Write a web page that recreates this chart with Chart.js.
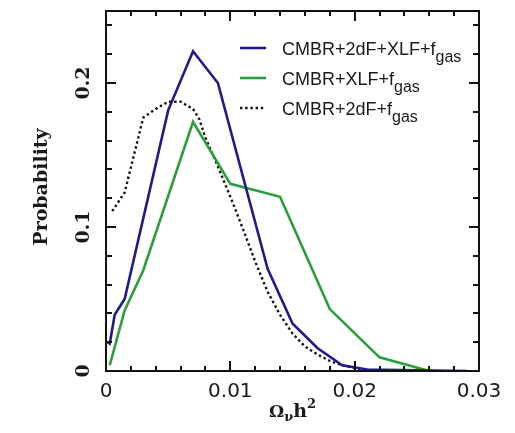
<!DOCTYPE html>
<html>
<head>
<meta charset="utf-8">
<script src="https://cdn.jsdelivr.net/npm/chart.js@4"></script>
<style>
  html, body { margin: 0; padding: 0; background: #fff; }
  #wrap { width: 515px; height: 433px; }
</style>
</head>
<body>
<div id="wrap"><canvas id="myChart"></canvas></div>
<script>
// Omega_nu h^2 posterior curves
const omegaFull = [0.0001, 0.0003, 0.0007, 0.0015, 0.005, 0.007, 0.009, 0.013, 0.015, 0.017, 0.019, 0.021, 0.029];
const probFull  = [0.020, 0.019, 0.039, 0.050, 0.181, 0.222, 0.200, 0.071, 0.033, 0.016, 0.004, 0.001, 0.0];

const omegaXlf = [0.0003, 0.0015, 0.003, 0.007, 0.010, 0.014, 0.018, 0.022, 0.026];
const probXlf  = [0.004, 0.042, 0.070, 0.173, 0.130, 0.121, 0.043, 0.0095, 0.0];

const omega2df = [0.0005, 0.0015, 0.003, 0.004, 0.005, 0.006, 0.007, 0.0075, 0.008, 0.009, 0.010, 0.011, 0.012, 0.013, 0.014, 0.015, 0.016, 0.017, 0.018, 0.019, 0.020, 0.021];
const prob2df  = [0.111, 0.124, 0.176, 0.182, 0.187, 0.187, 0.182, 0.175, 0.162, 0.142, 0.121, 0.099, 0.076, 0.055, 0.039, 0.026, 0.017, 0.0115, 0.007, 0.004, 0.002, 0.001];

const labelMain = ["CMBR+2dF+XLF+f", "CMBR+XLF+f", "CMBR+2dF+f"];
const labelSub = ["gas", "gas", "gas"];

const xTickLabels = [0, 0.01, 0.02, 0.03];
const yTickLabels = [0, 0.1, 0.2];

function pairs(xs, ys) {
  return xs.map((x, i) => ({ x: x, y: ys[i] }));
}

function isMajor(v, step) {
  return Math.abs(v / step - Math.round(v / step)) < 1e-6;
}

// box with inward ticks on all four sides
const frame = {
  id: "frame",
  afterDatasetsDraw(chart) {
    const ctx = chart.ctx;
    const a = chart.chartArea;
    const sx = chart.scales.x, sy = chart.scales.y;
    ctx.save();
    ctx.strokeStyle = "#111";
    ctx.lineWidth = 2;
    ctx.beginPath();
    sx.ticks.forEach(t => {
      const px = Math.round(sx.getPixelForValue(t.value));
      const len = isMajor(t.value, 0.01) ? 10 : 5;
      ctx.moveTo(px, a.bottom); ctx.lineTo(px, a.bottom - len);
      ctx.moveTo(px, a.top); ctx.lineTo(px, a.top + len);
    });
    sy.ticks.forEach(t => {
      if (t.value > 0.245) return;
      const py = Math.round(sy.getPixelForValue(t.value));
      const len = isMajor(t.value, 0.1) ? 10 : 6;
      ctx.moveTo(a.left, py); ctx.lineTo(a.left + len, py);
      ctx.moveTo(a.right, py); ctx.lineTo(a.right - len, py);
    });
    ctx.stroke();
    ctx.strokeRect(a.left, a.top, a.right - a.left, a.bottom - a.top);
    ctx.restore();
  }
};

// rotated y labels, axis titles and legend
const texts = {
  id: "texts",
  afterDraw(chart) {
    const ctx = chart.ctx;
    const a = chart.chartArea;
    const sy = chart.scales.y;
    ctx.save();
    ctx.fillStyle = "#1a1a1a";

    ctx.font = "bold 19px 'DejaVu Serif'";
    ctx.textAlign = "center";
    ctx.textBaseline = "middle";
    yTickLabels.forEach(v => {
      ctx.save();
      ctx.translate(84, sy.getPixelForValue(v));
      ctx.rotate(-Math.PI / 2);
      ctx.fillText(String(v), 0, 0);
      ctx.restore();
    });

    ctx.save();
    ctx.font = "bold 19px 'DejaVu Serif'";
    ctx.translate(42, (a.top + a.bottom) / 2 - 4);
    ctx.rotate(-Math.PI / 2);
    ctx.fillText("Probability", 0, 0);
    ctx.restore();

    // x title: Omega_nu h^2
    ctx.textAlign = "left";
    ctx.textBaseline = "alphabetic";
    const parts = [
      { t: "\u03A9", f: "bold 17px 'DejaVu Serif'", dy: 0 },
      { t: "\u03BD", f: "bold 13px 'DejaVu Serif'", dy: 4 },
      { t: "h", f: "bold 19px 'DejaVu Serif'", dy: 0 },
      { t: "2", f: "bold 13px 'DejaVu Serif'", dy: -9 }
    ];
    let total = 0;
    parts.forEach(p => { ctx.font = p.f; p.w = ctx.measureText(p.t).width; total += p.w; });
    let x = (a.left + a.right) / 2 - total / 2;
    parts.forEach(p => {
      ctx.font = p.f;
      ctx.fillText(p.t, x, 417 + p.dy);
      x += p.w;
    });

    // legend
    chart.data.datasets.forEach((ds, i) => {
      const y = 48 + 30 * i;
      ctx.save();
      ctx.strokeStyle = ds.borderColor;
      ctx.lineWidth = ds.borderWidth;
      ctx.setLineDash(ds.borderDash || []);
      ctx.beginPath();
      ctx.moveTo(240, y);
      ctx.lineTo(266, y);
      ctx.stroke();
      ctx.restore();
      ctx.font = "18px 'Liberation Sans'";
      ctx.fillText(labelMain[i], 282, y + 7);
      const w = ctx.measureText(labelMain[i]).width;
      ctx.font = "16px 'Liberation Sans'";
      ctx.fillText(labelSub[i], 282 + w, y + 14);
    });
    ctx.restore();
  }
};

const ctx = document.getElementById("myChart").getContext("2d");
const myChart = new Chart(ctx, {
  type: "line",
  data: {
    datasets: [
      {
        label: labelMain[0] + labelSub[0],
        data: pairs(omegaFull, probFull),
        borderColor: "#1f1b8c",
        borderWidth: 2.6,
        pointRadius: 0,
        tension: 0,
        fill: false
      },
      {
        label: labelMain[1] + labelSub[1],
        data: pairs(omegaXlf, probXlf),
        borderColor: "#2b9e3e",
        borderWidth: 2.6,
        pointRadius: 0,
        tension: 0,
        fill: false
      },
      {
        label: labelMain[2] + labelSub[2],
        data: pairs(omega2df, prob2df),
        borderColor: "#111111",
        borderWidth: 2.4,
        borderDash: [2.4, 2.8],
        pointRadius: 0,
        tension: 0,
        fill: false
      }
    ]
  },
  options: {
    responsive: true,
    maintainAspectRatio: false,
    animation: false,
    layout: { padding: { top: 11, right: 36, left: 0, bottom: 0 } },
    plugins: { legend: { display: false }, tooltip: { enabled: false } },
    scales: {
      x: {
        type: "linear",
        min: 0,
        max: 0.03,
        grid: { display: false, drawTicks: false },
        border: { display: false },
        ticks: {
          stepSize: 0.002,
          autoSkip: false,
          maxRotation: 0,
          minRotation: 0,
          padding: 9,
          color: "#1a1a1a",
          font: { family: "'DejaVu Sans'", size: 20 },
          callback: v => {
            const hit = xTickLabels.find(t => Math.abs(t - v) < 1e-6);
            return hit === undefined ? "" : String(hit);
          }
        },
        afterFit: s => { s.height = 62; }
      },
      y: {
        type: "linear",
        min: 0,
        max: 0.25,
        grid: { display: false, drawTicks: false },
        border: { display: false },
        ticks: { stepSize: 0.02, display: false },
        afterFit: s => { s.width = 106; }
      }
    }
  },
  plugins: [frame, texts]
});
</script>
</body>
</html>
